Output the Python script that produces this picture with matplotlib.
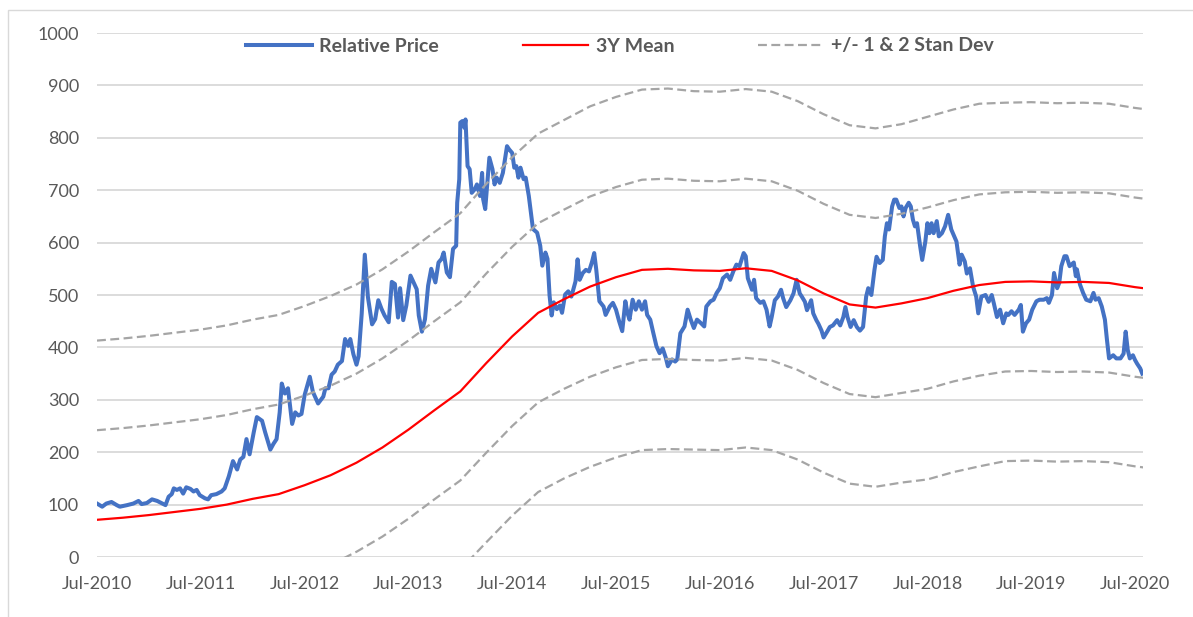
import numpy as np
import matplotlib
matplotlib.use("Agg")
import matplotlib.pyplot as plt
from matplotlib.patches import Rectangle

plt.rcParams['font.family'] = ['Lato', 'DejaVu Sans']

# Relative price (decimal years, value)
price_t = [
    2010.50, 2010.55, 2010.59, 2010.64, 2010.69, 2010.72, 2010.79, 2010.85, 2010.90, 2010.93,
    2010.98, 2011.03, 2011.08, 2011.12, 2011.16, 2011.19, 2011.22, 2011.24, 2011.27, 2011.30,
    2011.33, 2011.36, 2011.40, 2011.43, 2011.46, 2011.49, 2011.54, 2011.57, 2011.60, 2011.65,
    2011.70, 2011.73, 2011.77, 2011.81, 2011.85, 2011.88, 2011.91, 2011.94, 2011.97, 2012.01,
    2012.04, 2012.09, 2012.12, 2012.17, 2012.20, 2012.23, 2012.26, 2012.28, 2012.31, 2012.34,
    2012.38, 2012.41, 2012.44, 2012.47, 2012.50, 2012.55, 2012.58, 2012.63, 2012.68, 2012.70,
    2012.73, 2012.76, 2012.79, 2012.82, 2012.86, 2012.89, 2012.92, 2012.94, 2012.97, 2013.00,
    2013.02, 2013.05, 2013.08, 2013.11, 2013.15, 2013.18, 2013.21, 2013.24, 2013.27, 2013.31,
    2013.34, 2013.37, 2013.40,
    2013.42, 2013.45, 2013.48, 2013.52, 2013.55, 2013.58, 2013.60, 2013.63, 2013.66, 2013.69,
    2013.72, 2013.76, 2013.79, 2013.82, 2013.84, 2013.87, 2013.90, 2013.93, 2013.96, 2013.97,
    2013.99, 2014.00, 2014.02, 2014.04, 2014.05, 2014.07, 2014.09, 2014.11, 2014.14, 2014.16,
    2014.19, 2014.21, 2014.22, 2014.24, 2014.26, 2014.28, 2014.31, 2014.33, 2014.35, 2014.38,
    2014.41, 2014.45, 2014.47, 2014.50, 2014.52, 2014.54, 2014.56, 2014.58, 2014.61, 2014.63,
    2014.66, 2014.68, 2014.70, 2014.74, 2014.77, 2014.79, 2014.82, 2014.84, 2014.86, 2014.88,
    2014.90, 2014.93, 2014.96,
    2014.98, 2015.01, 2015.04, 2015.07, 2015.11, 2015.13, 2015.15, 2015.18, 2015.21, 2015.24,
    2015.27, 2015.29, 2015.31, 2015.34, 2015.38, 2015.40, 2015.44, 2015.47, 2015.50, 2015.53,
    2015.56, 2015.59, 2015.61, 2015.63, 2015.66, 2015.69, 2015.72, 2015.75, 2015.78, 2015.80,
    2015.83, 2015.86, 2015.89, 2015.92, 2015.95, 2015.98, 2016.00, 2016.04, 2016.07, 2016.09,
    2016.12, 2016.16, 2016.19, 2016.22, 2016.25, 2016.28, 2016.32, 2016.35, 2016.37, 2016.41,
    2016.44, 2016.47, 2016.50, 2016.53, 2016.57, 2016.60, 2016.63, 2016.66, 2016.69, 2016.73,
    2016.75, 2016.77, 2016.81, 2016.83, 2016.85, 2016.89, 2016.92, 2016.95, 2016.98,
    2017.00, 2017.03, 2017.06, 2017.09, 2017.11, 2017.14, 2017.18, 2017.21, 2017.24, 2017.27,
    2017.29, 2017.32, 2017.34, 2017.38, 2017.40, 2017.43, 2017.45, 2017.48, 2017.50, 2017.54,
    2017.56, 2017.59, 2017.63, 2017.66, 2017.69, 2017.71, 2017.73, 2017.76, 2017.79, 2017.82,
    2017.85,
    2017.88, 2017.91, 2017.93, 2017.96, 2017.99, 2018.01, 2018.04, 2018.07, 2018.09, 2018.11,
    2018.13, 2018.16, 2018.18, 2018.20, 2018.23, 2018.25, 2018.27, 2018.29, 2018.32, 2018.34,
    2018.36, 2018.38, 2018.40, 2018.43, 2018.45, 2018.48, 2018.50, 2018.52, 2018.54, 2018.56,
    2018.59, 2018.61, 2018.64, 2018.67, 2018.70, 2018.73, 2018.78, 2018.81, 2018.83, 2018.86,
    2018.88, 2018.91, 2018.94, 2018.97, 2018.99, 2019.02, 2019.06, 2019.09, 2019.12, 2019.14,
    2019.17,
    2019.20, 2019.23, 2019.26, 2019.28, 2019.31, 2019.34, 2019.38, 2019.40, 2019.42, 2019.45,
    2019.48, 2019.51, 2019.55, 2019.58, 2019.62, 2019.65, 2019.67, 2019.70, 2019.72, 2019.75,
    2019.77, 2019.79, 2019.82, 2019.84, 2019.87, 2019.91, 2019.93, 2019.94, 2019.97, 2020.00,
    2020.03, 2020.07, 2020.10, 2020.12, 2020.15, 2020.18, 2020.21, 2020.23, 2020.25, 2020.29,
    2020.32, 2020.36, 2020.39, 2020.41, 2020.43, 2020.45, 2020.48, 2020.50, 2020.52, 2020.55,
    2020.57,
]
price_v = [
    102, 96, 102, 105, 99, 96, 99, 102, 107, 101,
    103, 110, 107, 103, 99, 115, 120, 131, 128, 131,
    121, 133, 130, 125, 128, 118, 112, 110, 118, 120,
    125, 131, 154, 183, 167, 186, 191, 225, 196, 238,
    267, 260, 238, 205, 216, 225, 276, 331, 312, 322,
    254, 276, 270, 273, 309, 344, 315, 293, 306, 322,
    322, 348, 354, 367, 374, 416, 403, 416, 387, 367,
    383, 464, 577, 496, 444, 454, 490, 474, 461, 448,
    525, 521, 457,
    513, 452, 480, 537, 524, 511, 461, 430, 454, 518,
    550, 524, 562, 569, 581, 543, 534, 588, 594, 676,
    721, 829, 832, 819, 835, 746, 740, 695, 702, 711,
    689, 733, 683, 664, 714, 762, 740, 711, 724, 714,
    733, 784, 778, 771, 743, 746, 724, 743, 721, 724,
    689, 657, 626, 619, 594, 556, 581, 569, 499, 461,
    486, 473, 480,
    466, 501, 507, 497, 526, 568, 529, 542, 548, 545,
    564, 580, 548, 488, 478, 462, 478, 485, 472, 450,
    431, 488, 466, 453, 491, 472, 488, 472, 488, 462,
    453, 427, 402, 389, 398, 380, 364, 377, 373, 377,
    427, 440, 472, 453, 437, 453, 446, 440, 478, 488,
    491, 504, 513, 532, 539, 529, 545, 558, 555, 580,
    574, 532, 510, 529, 494, 485, 488, 472, 440,
    458, 490, 497, 510, 494, 477, 490, 503, 529, 503,
    497, 487, 471, 490, 465, 452, 445, 432, 419, 432,
    439, 442, 452, 442, 458, 477, 458, 439, 452, 439,
    432,
    439, 497, 513, 500, 548, 573, 561, 567, 612, 637,
    625, 669, 682, 682, 666, 669, 650, 666, 676, 669,
    644, 631, 637, 593, 567, 602, 637, 618, 637, 618,
    641, 612, 618, 631, 653, 625, 602, 558, 577, 564,
    541, 551, 516, 497, 465, 497, 500, 487, 500, 484,
    458,
    472, 446, 465, 462, 469, 462, 472, 481, 430, 446,
    453, 472, 488, 491, 491, 494, 485, 500, 542, 513,
    523, 555, 574, 574, 555, 562, 536, 549, 520, 504,
    491, 488, 504, 491, 494, 478, 453, 414, 379, 385,
    379, 379, 388, 430, 395, 379, 385, 376, 369, 360,
    350,
]

# 3Y mean and standard deviation (quarterly)
mean_t = [
    2010.50, 2010.75, 2011.00, 2011.25, 2011.50, 2011.75, 2012.00, 2012.25, 2012.50, 2012.75,
    2013.00, 2013.25, 2013.50, 2013.75, 2014.00, 2014.25, 2014.50, 2014.75, 2015.00, 2015.25,
    2015.50, 2015.75, 2016.00, 2016.25, 2016.50, 2016.75, 2017.00, 2017.25, 2017.50, 2017.75,
    2018.00, 2018.25, 2018.50, 2018.75, 2019.00, 2019.25, 2019.50, 2019.75, 2020.00, 2020.25,
    2020.50, 2020.58,
]
mean_v = [
    71, 75, 80, 86, 92, 100, 111, 120, 137, 156,
    180, 209, 243, 280, 316, 370, 421, 466, 492, 516,
    534, 548, 550, 547, 546, 551, 546, 528, 503, 482,
    476, 484, 494, 508, 519, 525, 526, 524, 525, 523,
    515, 513,
]
sd_v = [
    171, 171, 171, 171, 171, 171, 171, 171, 171, 171,
    170, 170, 170, 170, 170, 171, 171, 171, 171, 172,
    172, 172, 172, 171, 171, 171, 171, 171, 171, 171,
    171, 171, 173, 173, 173, 171, 171, 171, 171, 171,
    171, 171,
]

tick_t = [2010.5, 2011.5, 2012.5, 2013.5, 2014.5, 2015.5, 2016.5, 2017.5, 2018.5, 2019.5, 2020.5]
tick_labels = ['Jul-2010', 'Jul-2011', 'Jul-2012', 'Jul-2013', 'Jul-2014', 'Jul-2015',
               'Jul-2016', 'Jul-2017', 'Jul-2018', 'Jul-2019', 'Jul-2020']

mean = np.array(mean_v, dtype=float)
sd = np.array(sd_v, dtype=float)

W, H = 1193, 617
fig = plt.figure(figsize=(W / 100, H / 100), dpi=100)
ax = fig.add_axes([97 / W, 1 - 557 / H, 1046 / W, 524 / H])

ax.plot(price_t, price_v, color='#4472C4', lw=2.9, solid_joinstyle='round',
        label='Relative Price', zorder=3)
ax.plot(mean_t, mean, color='#FF0000', lw=1.6, label='3Y Mean', zorder=4)
for k in (2, 1, -1, -2):
    ax.plot(mean_t, mean + k * sd, color='#A5A5A5', lw=1.6, ls=(0, (4, 2)),
            label='+/- 1 & 2 Stan Dev' if k == 2 else None, zorder=5)

ax.set_xlim(2010.5, 2020.577)
ax.set_ylim(0, 1000)
ax.set_yticks(range(0, 1001, 100))
ax.set_xticks(tick_t, tick_labels)
ax.tick_params(length=0, colors='#595959', labelsize=13)
ax.tick_params(axis='y', pad=13)
ax.tick_params(axis='x', pad=14)
ax.yaxis.grid(True, color='#D9D9D9', lw=1.3)
ax.set_axisbelow(True)
for s in ax.spines.values():
    s.set_visible(False)

ax.legend(loc='center', bbox_to_anchor=(0.5, 1 - 13 / 524), ncol=3, frameon=False,
          handlelength=3.35, handletextpad=0.4, columnspacing=4.3,
          prop={'weight': 'bold', 'size': 14}, labelcolor='#595959')

# chart border
fig.patches.append(Rectangle((8 / W, -0.1), 1.5, 1.1 - 10 / H,
                             transform=fig.transFigure, fill=False,
                             edgecolor='#D9D9D9', lw=1))

fig.savefig('out.png', dpi=100)
